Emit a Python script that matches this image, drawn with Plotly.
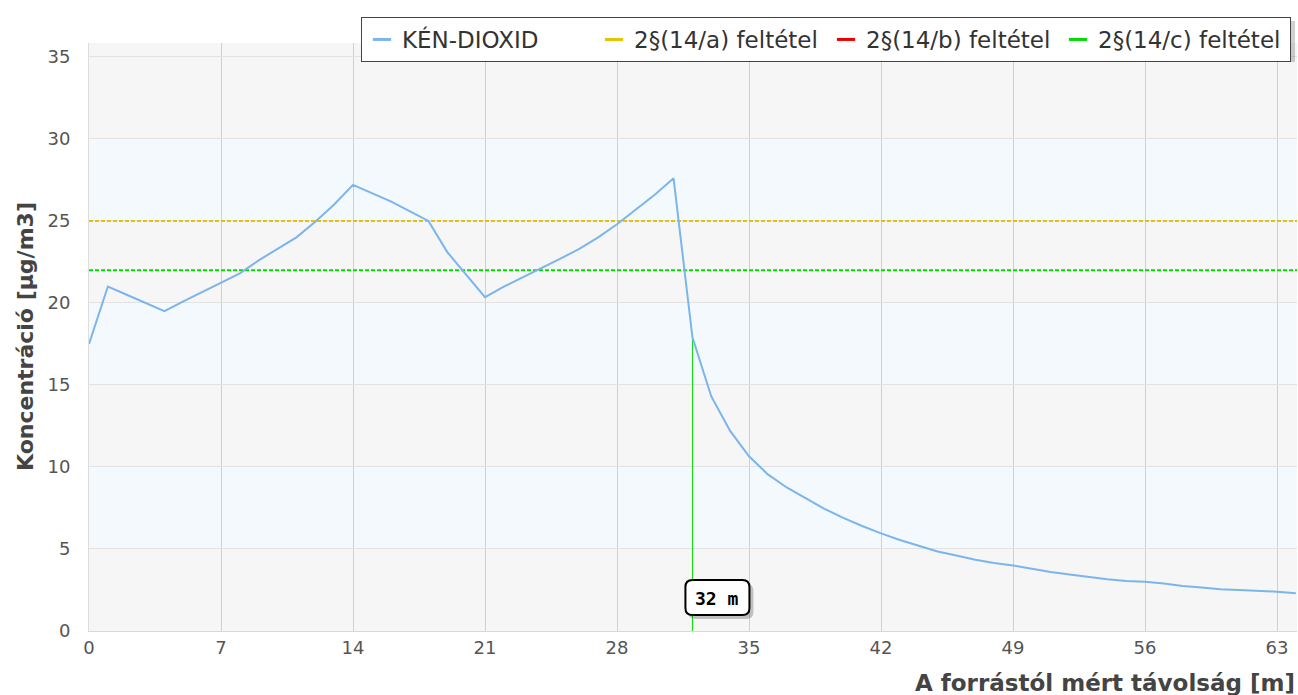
import plotly.graph_objects as go

# ---- data ----
distance_m = list(range(0, 65))
so2_conc = [17.5, 21.0, 20.5, 20.0, 19.5, 20.1, 20.65, 21.2, 21.8, 22.6,
            23.3, 24.0, 24.95, 26.0, 27.2, 26.7, 26.2, 25.6, 25.0, 23.1,
            21.7, 20.35, 21.0, 21.55, 22.1, 22.7, 23.3, 24.0, 24.8, 25.7,
            26.6, 27.6, 17.9, 14.3, 12.2, 10.65, 9.55, 8.75, 8.1, 7.45,
            6.9, 6.4, 5.95, 5.55, 5.2, 4.85, 4.6, 4.35, 4.15, 4.0,
            3.8, 3.6, 3.45, 3.3, 3.15, 3.05, 3.0, 2.9, 2.75, 2.65,
            2.55, 2.5, 2.45, 2.4, 2.3]
limit_a = 25.0   # 2§(14/a)
limit_c = 22.0   # 2§(14/c)
marker_distance = 32
marker_label = "32 m"
x_ticks = [0, 7, 14, 21, 28, 35, 42, 49, 56, 63]
y_ticks = [0, 5, 10, 15, 20, 25, 30, 35]
series_names = ["KÉN-DIOXID", "2§(14/a) feltétel", "2§(14/b) feltétel", "2§(14/c) feltétel"]
series_colors = ["#7cb5ec", "#e6c300", "#ee0000", "#00dd00"]

X_MAX = 64.06
Y_MAX = 35.85

W, H = 1298, 695
PL, PT, PR, PB = 89, 43, 1297, 631   # plot area in screen pixels


def rounded_rect(l, b, r, t, rad):
    return (f"M {l+rad},{b} L {r-rad},{b} Q {r},{b} {r},{b+rad} L {r},{t-rad} "
            f"Q {r},{t} {r-rad},{t} L {l+rad},{t} Q {l},{t} {l},{t-rad} "
            f"L {l},{b+rad} Q {l},{b} {l+rad},{b} Z")


def px_x(sx):
    return (sx - PL) / (PR - PL)


def px_y(sy):
    return (PB - sy) / (PB - PT)


fig = go.Figure()

# alternating bands
for lo, hi in [(5, 10), (15, 20), (25, 30)]:
    fig.add_shape(type="rect", xref="paper", yref="y", x0=0, x1=1, y0=lo, y1=hi,
                  fillcolor="#f4f9fe", line_width=0, layer="below")

# threshold lines
fig.add_trace(go.Scatter(x=[0, X_MAX], y=[limit_a, limit_a], mode="lines",
                         line=dict(color=series_colors[1], width=2, dash="4px,2px"),
                         showlegend=False, hoverinfo="skip"))
fig.add_trace(go.Scatter(x=[0, X_MAX], y=[limit_c, limit_c], mode="lines",
                         line=dict(color=series_colors[3], width=2, dash="4px,2px"),
                         showlegend=False, hoverinfo="skip"))

# vertical marker line
mi = distance_m.index(marker_distance)
fig.add_trace(go.Scatter(x=[marker_distance, marker_distance], y=[0, so2_conc[mi]],
                         mode="lines", line=dict(color="#00dd00", width=1),
                         showlegend=False, hoverinfo="skip"))

# main series
fig.add_trace(go.Scatter(x=distance_m, y=so2_conc, mode="lines",
                         line=dict(color=series_colors[0], width=2),
                         name=series_names[0], showlegend=False))

# legend entries
for name, col in zip(series_names, series_colors):
    fig.add_trace(go.Scatter(x=[None], y=[None], mode="markers", name=name,
                             marker=dict(symbol="line-ew", size=13,
                                         line=dict(color=col, width=3), color=col)))

# label box "32 m" (shadow + rounded box, pixel sized, anchored at the marker distance)
fig.add_shape(type="path", xref="x", yref="y", xsizemode="pixel", ysizemode="pixel",
              xanchor=marker_distance, yanchor=0,
              path=rounded_rect(-4, 12, 61, 47, 7),
              fillcolor="rgba(0,0,0,0.22)", line_width=0, layer="above")
fig.add_shape(type="path", xref="x", yref="y", xsizemode="pixel", ysizemode="pixel",
              xanchor=marker_distance, yanchor=0,
              path=rounded_rect(-7, 16, 57, 51, 7),
              fillcolor="#ffffff", line=dict(color="#000000", width=2), layer="above")
fig.add_annotation(x=marker_distance, y=0, xref="x", yref="y", text="<b>" + marker_label + "</b>",
                   showarrow=False, xshift=25, yshift=33,
                   font=dict(family="DejaVu Sans Mono", size=18, color="#000000"))

# axis titles
fig.add_annotation(x=1, y=0, xref="paper", yref="paper", xanchor="right", yanchor="top",
                   yshift=-37, xshift=0, showarrow=False,
                   text="<b>A forrástól mért távolság [m]</b>",
                   font=dict(family="DejaVu Sans", size=23, color="#444444"))
fig.add_annotation(x=0, y=0.5, xref="paper", yref="paper", xanchor="center", yanchor="middle",
                   xshift=-64, showarrow=False, textangle=-90,
                   text="<b>Koncentráció [µg/m3]</b>",
                   font=dict(family="DejaVu Sans", size=22, color="#444444"))

# legend shadow
fig.add_shape(type="rect", xref="paper", yref="paper",
              x0=px_x(367), x1=px_x(1295), y0=px_y(62), y1=px_y(21),
              fillcolor="rgba(0,0,0,0.18)", line_width=0, layer="above")

fig.update_layout(
    width=W, height=H,
    margin=dict(l=PL, r=W - PR, t=PT, b=H - PB, autoexpand=False),
    paper_bgcolor="#ffffff",
    plot_bgcolor="#f6f6f6",
    font=dict(family="DejaVu Sans", color="#555555"),
    legend=dict(orientation="h", x=px_x(1291), xanchor="right",
                y=px_y(17), yanchor="top",
                bgcolor="#ffffff", bordercolor="#444444", borderwidth=1,
                font=dict(family="DejaVu Sans", size=23, color="#333333"),
                itemwidth=30, tracegroupgap=0, entrywidth=187, entrywidthmode="pixels"),
    xaxis=dict(range=[0, X_MAX], tickvals=x_ticks, ticktext=[str(v) for v in x_ticks],
               showgrid=True, gridcolor="#d0d0d0", gridwidth=1,
               zeroline=False, showline=True, linecolor="#d8d8d8", linewidth=1,
               ticks="", tickfont=dict(size=18, color="#555555")),
    yaxis=dict(range=[0, Y_MAX], tickvals=y_ticks, ticktext=[str(v) for v in y_ticks],
               showgrid=True, gridcolor="#e2e2e2", gridwidth=1,
               zeroline=False, showline=True, linecolor="#dddddd", linewidth=1,
               ticks="outside", ticklen=14, tickcolor="rgba(0,0,0,0)",
               tickfont=dict(size=18, color="#555555")),
    showlegend=True,
)

fig.write_html("out.html", config={"displayModeBar": False},
               post_script="document.body.style.margin='0';document.body.style.overflow='hidden';")
